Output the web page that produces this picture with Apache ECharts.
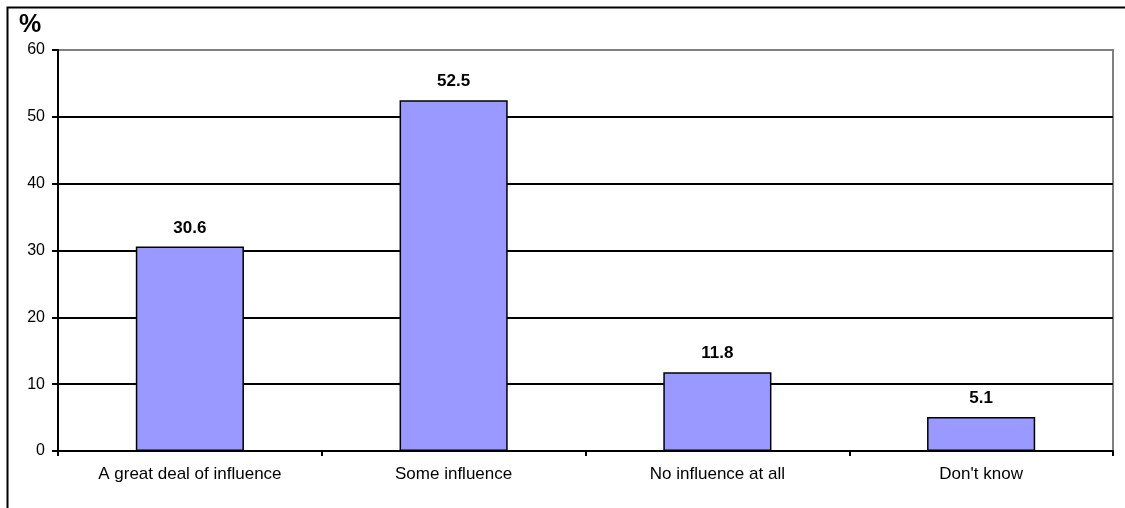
<!DOCTYPE html>
<html>
<head>
<meta charset="utf-8">
<script src="https://cdn.jsdelivr.net/npm/echarts@6/dist/echarts.min.js"></script>
<style>
  html, body { margin: 0; padding: 0; background: #ffffff; }
  #chart { width: 1125px; height: 508px; }
</style>
</head>
<body>
<div id="chart"></div>
<script>
// Survey answers and their shares (%)
const categories = ['A great deal of influence', 'Some influence', 'No influence at all', "Don't know"];
const values = [30.6, 52.5, 11.8, 5.1];
const yTicks = [0, 10, 20, 30, 40, 50, 60];

const FONT = '"Liberation Sans", Arial, sans-serif';

const chart = echarts.init(document.getElementById('chart'), null, { renderer: 'canvas' });

chart.setOption({
  backgroundColor: '#ffffff',
  animation: false,
  graphic: [
    {
      // outer frame, running off the right and bottom edges
      type: 'rect',
      left: 5, top: 5,
      shape: { x: 0, y: 0, width: 1200, height: 600 },
      style: { fill: 'none', stroke: '#000000', lineWidth: 2 },
      silent: true
    },
    {
      type: 'text',
      left: 19, top: 13,
      style: { text: '%', font: 'bold 25px ' + FONT, fill: '#000000' },
      silent: true
    }
  ],
  grid: {
    left: 58, right: 12, top: 50, bottom: 57,
    show: true,
    borderColor: '#808080',
    borderWidth: 2,
    backgroundColor: '#ffffff'
  },
  xAxis: {
    type: 'category',
    data: categories,
    boundaryGap: true,
    axisLine: { show: true, lineStyle: { color: '#000000', width: 2 } },
    axisTick: { show: true, length: 5, lineStyle: { color: '#000000', width: 2 } },
    axisLabel: { color: '#000000', fontFamily: FONT, fontSize: 17, margin: 15 },
    splitLine: { show: false }
  },
  yAxis: {
    type: 'value',
    min: yTicks[0],
    max: yTicks[yTicks.length - 1],
    interval: 10,
    axisLine: { show: true, lineStyle: { color: '#000000', width: 2 } },
    axisTick: { show: true, length: 6, lineStyle: { color: '#000000', width: 2 } },
    axisLabel: { color: '#000000', fontFamily: FONT, fontSize: 16, margin: 13 },
    splitLine: {
      show: true,
      lineStyle: {
        color: ['#000000', '#000000', '#000000', '#000000', '#000000', '#000000', '#808080'],
        width: 2
      }
    }
  },
  series: [{
    type: 'bar',
    data: values,
    barWidth: '41%',
    itemStyle: { color: '#9999FF', borderColor: '#000000', borderWidth: 1.5 },
    label: {
      show: true,
      position: 'top',
      distance: 10,
      color: '#000000',
      fontFamily: FONT,
      fontWeight: 'bold',
      fontSize: 17,
      formatter: (p) => p.value.toFixed(1)
    },
    z: 3
  }]
});
</script>
</body>
</html>
